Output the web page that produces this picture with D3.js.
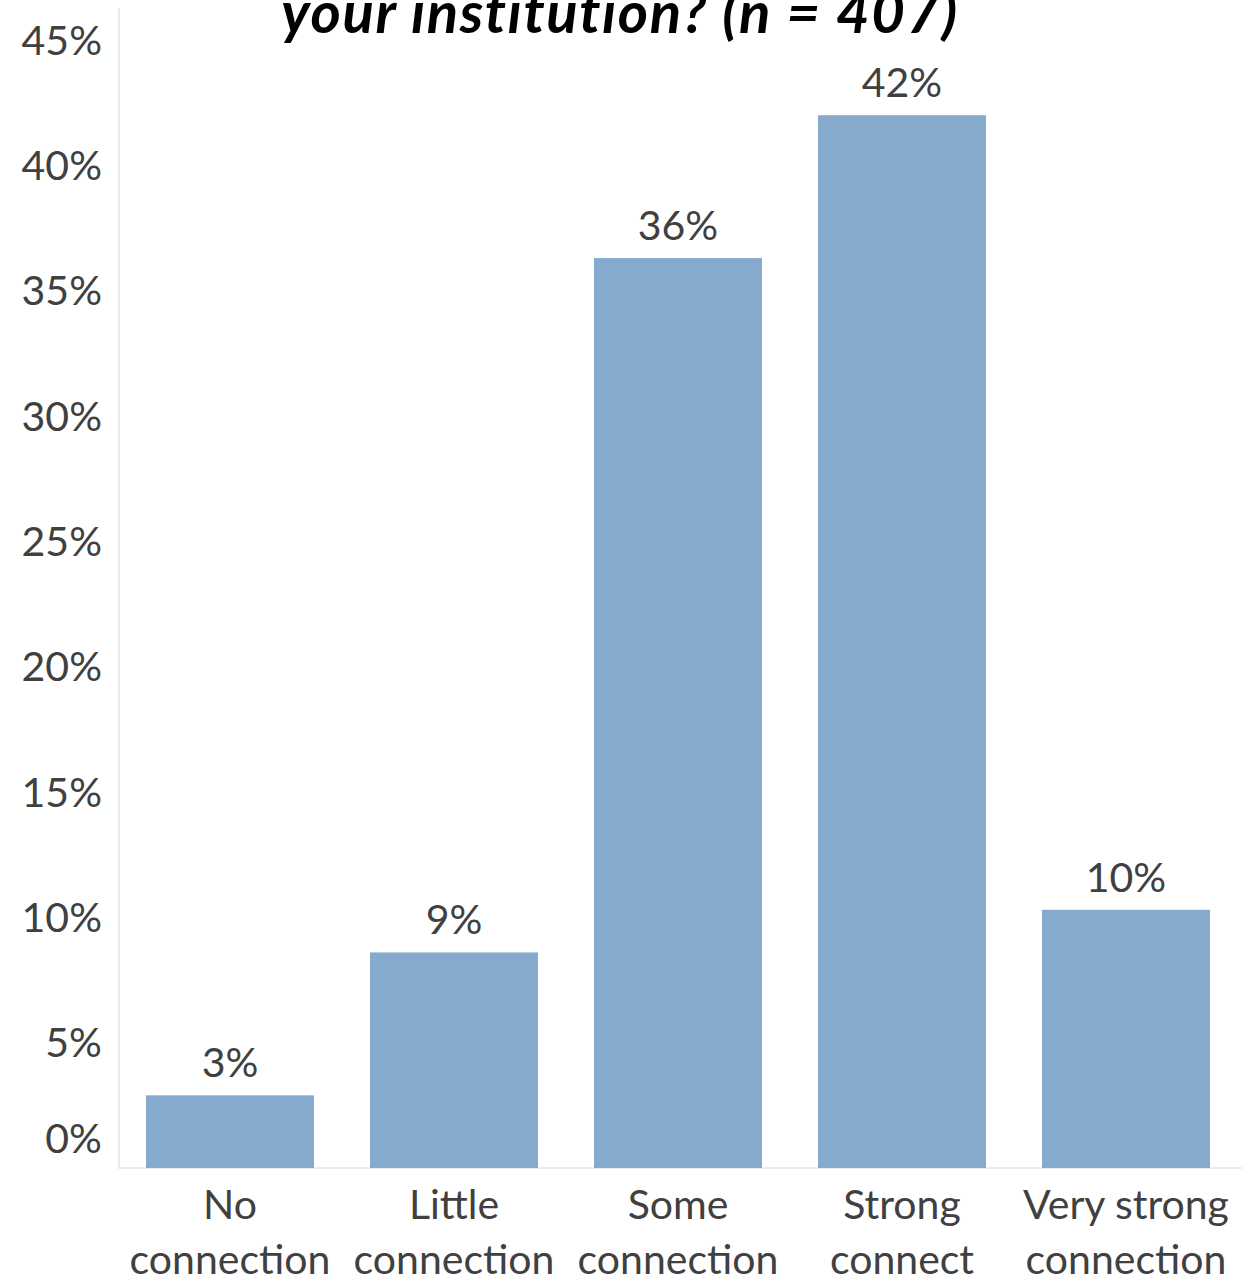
<!DOCTYPE html>
<html lang="en">
<head>
  <meta charset="UTF-8">
  <title>Connection to institution</title>
  <script src="https://d3js.org/d3.v7.min.js"></script>
  <style>
    body { margin: 0; background: #fff; }
    svg { display: block; }
    .tick-label, .value-label, .cat-label {
      font-family: Lato, "Open Sans", sans-serif;
      font-size: 41px;
      fill: #404040;
    }
    .title {
      font-family: Lato, "Open Sans", sans-serif;
      font-size: 58px;
      font-weight: bold;
      font-style: italic;
      letter-spacing: 1.6px;
      fill: #000;
    }
  </style>
</head>
<body>
  <svg width="1242" height="1280"></svg>
  <script>
    // data
    const categories = [
      ["No", "connection"],
      ["Little", "connection"],
      ["Some", "connection"],
      ["Strong", "connect"],
      ["Very strong", "connection"]
    ];
    const values = [2.9, 8.6, 36.3, 42.0, 10.3];
    const yTicks = [0, 5, 10, 15, 20, 25, 30, 35, 40, 45];
    const titleText = "your institution? (n = 407)";

    const svg = d3.select("svg");
    const plotLeft = 118, plotRight = 1238, plotBottom = 1168, plotTop = 40;

    const x = d3.scaleBand()
      .domain(d3.range(categories.length))
      .range([plotLeft, plotRight])
      .paddingInner(0.25)
      .paddingOuter(0.125);

    const y = d3.scaleLinear().domain([0, 45]).range([plotBottom, plotTop]);

    // title (upper lines are off the top of the picture)
    svg.append("text")
      .attr("class", "title")
      .attr("x", 620)
      .attr("y", 33)
      .attr("text-anchor", "middle")
      .text(titleText);

    // axis lines
    svg.append("line")
      .attr("x1", plotLeft + 1).attr("x2", plotLeft + 1)
      .attr("y1", 8).attr("y2", plotBottom)
      .attr("stroke", "#ebebeb").attr("stroke-width", 2);
    svg.append("line")
      .attr("x1", plotLeft).attr("x2", 1242)
      .attr("y1", plotBottom).attr("y2", plotBottom)
      .attr("stroke", "#ebebeb").attr("stroke-width", 2);

    // y tick labels
    svg.selectAll(".tick-label")
      .data(yTicks)
      .join("text")
      .attr("class", "tick-label")
      .attr("x", 102)
      .attr("y", d => y(d) + (d === 0 ? -30 : 0))
      .attr("dy", "0.36em")
      .attr("text-anchor", "end")
      .text(d => d + "%");

    // bars
    svg.selectAll(".bar")
      .data(values)
      .join("rect")
      .attr("class", "bar")
      .attr("x", (d, i) => x(i))
      .attr("width", x.bandwidth())
      .attr("y", d => y(d))
      .attr("height", d => y(0) - y(d))
      .attr("fill", "#85aacd");

    // value labels
    svg.selectAll(".value-label")
      .data(values)
      .join("text")
      .attr("class", "value-label")
      .attr("x", (d, i) => x(i) + x.bandwidth() / 2)
      .attr("y", d => y(d) - 18)
      .attr("text-anchor", "middle")
      .text(d => Math.round(d) + "%");

    // category labels, two lines each
    const cat = svg.selectAll(".cat-label")
      .data(categories)
      .join("text")
      .attr("class", "cat-label")
      .attr("text-anchor", "middle");
    cat.selectAll("tspan")
      .data((d, i) => d.map(t => ({ t, i })))
      .join("tspan")
      .attr("x", d => x(d.i) + x.bandwidth() / 2)
      .attr("y", (d, j) => 1219 + j * 55)
      .text(d => d.t);
  </script>
</body>
</html>
